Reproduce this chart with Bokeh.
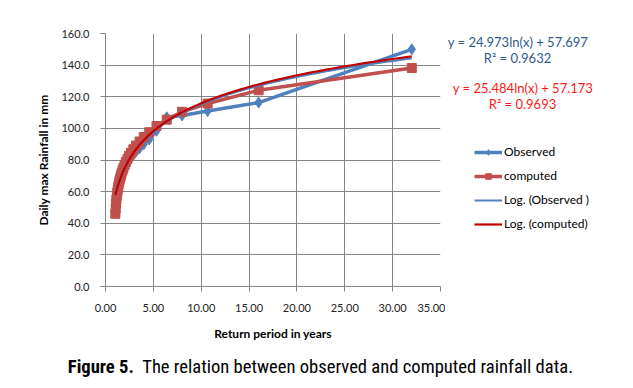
import numpy as np
from bokeh.plotting import figure
from bokeh.layouts import column, row
from bokeh.models import Range1d, FixedTicker, NumeralTickFormatter, Label, Legend, LegendItem
from bokeh.embed import file_html
from bokeh.resources import INLINE

# ---------------- data ----------------
return_period = [32.00, 16.00, 10.67, 8.00, 6.40, 5.33, 4.57, 4.00, 3.56, 3.20, 2.91,
                 2.67, 2.46, 2.29, 2.13, 2.00, 1.88, 1.78, 1.68, 1.60, 1.52, 1.45,
                 1.39, 1.33, 1.28, 1.23, 1.19, 1.14, 1.10, 1.07, 1.03]
observed = [150.0, 116.3, 111.0, 108.2, 107.0, 98.5, 93.0, 90.0, 87.5, 85.5, 83.5,
            81.5, 80.0, 78.5, 77.0, 75.5, 74.0, 72.5, 71.0, 69.5, 68.0, 66.5,
            65.0, 63.0, 61.5, 59.5, 57.5, 55.5, 53.0, 50.0, 47.0]
computed = [138.2, 124.1, 115.7, 110.5, 105.5, 101.5, 97.6, 94.5, 91.7, 89.1, 86.8,
            84.6, 82.6, 80.6, 78.7, 76.9, 75.1, 73.4, 71.7, 70.0, 68.3, 66.6,
            64.9, 63.1, 61.3, 59.4, 57.3, 55.1, 52.5, 49.3, 46.0]
# displayed trendline equations y = a*ln(x) + b
obs_a, obs_b, obs_r2 = 24.973, 57.697, 0.9632
cmp_a, cmp_b, cmp_r2 = 25.484, 57.173, 0.9693
x_ticks = [0, 5, 10, 15, 20, 25, 30, 35]
y_ticks = [0, 20, 40, 60, 80, 100, 120, 140, 160]
series_names = ["Observed", "computed", "Log. (Observed )", "Log. (computed)"]
caption_bold = "Figure 5."
caption_rest = "The relation between observed and computed rainfall data."

BLUE = "#4F81BD"
RED = "#C0504D"
DARKRED = "#C00000"
GRID = "#868686"
FONT = "Lato"
EQBLUE = "#2F5A8E"
EQRED = "#FF1A1A"
CAPFONT = "'Liberation Sans Narrow', 'Arial Narrow', 'Roboto Condensed', Roboto"

# ---------------- main chart ----------------
p = figure(width=445, height=345, output_backend="svg", toolbar_location=None,
           x_range=Range1d(0, 35), y_range=Range1d(0, 160),
           min_border_left=105, min_border_right=5, min_border_top=33, min_border_bottom=59)
p.outline_line_color = None
p.background_fill_color = "white"
p.border_fill_color = "white"

p.xaxis.ticker = FixedTicker(ticks=x_ticks)
p.yaxis.ticker = FixedTicker(ticks=y_ticks)
p.xaxis.formatter = NumeralTickFormatter(format="0.00")
p.yaxis.formatter = NumeralTickFormatter(format="0.0")
for ax in (p.xaxis, p.yaxis):
    ax.axis_line_color = GRID
    ax.major_tick_line_color = GRID
    ax.minor_tick_line_color = None
    ax.major_tick_in = 0
    ax.major_tick_out = 5
    ax.major_label_text_font = FONT
    ax.major_label_text_font_size = "11px"
    ax.major_label_text_color = "#222222"
    ax.axis_label_text_font = FONT
    ax.axis_label_text_font_style = "bold"
    ax.axis_label_text_font_size = "12px"
    ax.axis_label_text_color = "#000000"
p.xaxis.axis_label = "Return period in years"
p.yaxis.axis_label = "Daily max Rainfall in mm"
p.xaxis.major_label_standoff = 12
p.yaxis.major_label_standoff = 11
p.xaxis.axis_label_standoff = 11
p.yaxis.axis_label_standoff = 7
p.xgrid.ticker = FixedTicker(ticks=x_ticks)
p.ygrid.ticker = FixedTicker(ticks=y_ticks)
p.grid.grid_line_color = GRID
p.grid.grid_line_width = 1

p.line(return_period, observed, line_color=BLUE, line_width=3.5)
p.scatter(return_period, observed, marker="diamond", size=11, fill_color=BLUE, line_color=BLUE)
p.line(return_period, computed, line_color=RED, line_width=3.5)
p.scatter(return_period, computed, marker="square", size=9, fill_color=RED, line_color=RED)

# trendlines drawn from the displayed equations
xt = np.geomspace(min(return_period), max(return_period), 200)
p.line(xt, obs_a * np.log(xt) + obs_b, line_color=BLUE, line_width=2)
p.line(xt, cmp_a * np.log(xt) + cmp_b, line_color=DARKRED, line_width=2.2)

# ---------------- side panel: equations + legend ----------------
# frame aligned with the main chart's frame (rows 33..286 px)
side = figure(width=180, height=345, output_backend="svg", toolbar_location=None,
              x_range=Range1d(445, 625), y_range=Range1d(286, 33),
              min_border_left=0, min_border_right=0, min_border_top=33, min_border_bottom=59,
              x_axis_type=None, y_axis_type=None)
side.outline_line_color = None
side.grid.visible = False
side.background_fill_color = "white"
side.border_fill_color = "white"

# legend proxies: same series, but they fall outside this panel's ranges (clipped away)
r_obs_line = side.line(return_period, observed, line_color=BLUE, line_width=3.5)
r_obs_pts = side.scatter(return_period, observed, marker="diamond", size=9,
                         fill_color=BLUE, line_color=BLUE)
r_cmp_line = side.line(return_period, computed, line_color=RED, line_width=3.5)
r_cmp_pts = side.scatter(return_period, computed, marker="square", size=8,
                         fill_color=RED, line_color=RED)
r_obs_tr = side.line(return_period, observed, line_color=BLUE, line_width=2)
r_cmp_tr = side.line(return_period, computed, line_color=DARKRED, line_width=2.2)

legend = Legend(items=[
    LegendItem(label=series_names[0], renderers=[r_obs_line, r_obs_pts]),
    LegendItem(label=series_names[1], renderers=[r_cmp_line, r_cmp_pts]),
    LegendItem(label=series_names[2], renderers=[r_obs_tr]),
    LegendItem(label=series_names[3], renderers=[r_cmp_tr]),
], location=(29, 55))
legend.padding = 0
legend.margin = 0
legend.spacing = 9
legend.glyph_width = 28
legend.glyph_height = 14
legend.label_height = 14
legend.label_standoff = 2
legend.label_text_font = FONT
legend.label_text_font_size = "12px"
legend.label_text_color = "#000000"
legend.border_line_color = None
legend.background_fill_alpha = 0
side.add_layout(legend, "center")

eq_texts = [
    (517.5, 41.0, "y = %.3fln(x) + %.3f" % (obs_a, obs_b), EQBLUE),
    (517.0, 57.5, "R\u00b2 = %.4f" % obs_r2, EQBLUE),
    (522.5, 87.5, "y = %.3fln(x) + %.3f" % (cmp_a, cmp_b), EQRED),
    (522.0, 103.5, "R\u00b2 = %.4f" % cmp_r2, EQRED),
]
for x, y, t, c in eq_texts:
    side.add_layout(Label(x=x, y=y, text=t, text_color=c, text_font=FONT,
                          text_font_size="13px", text_align="center", text_baseline="middle"))

# ---------------- caption ----------------
cap = figure(width=625, height=35, output_backend="svg", toolbar_location=None,
             x_range=Range1d(0, 625), y_range=Range1d(380, 345),
             min_border=0, x_axis_type=None, y_axis_type=None)
cap.outline_line_color = None
cap.grid.visible = False
cap.background_fill_color = "white"
cap.border_fill_color = "white"
cap.add_layout(Label(x=67.3, y=366, text=caption_bold, text_font=CAPFONT,
                     text_font_style="bold", text_font_size="18.6px", text_color="#000000",
                     text_align="left", text_baseline="middle"))
cap.add_layout(Label(x=141.7, y=366, text=caption_rest, text_font=CAPFONT,
                     text_font_size="18.6px", text_color="#000000",
                     text_align="left", text_baseline="middle"))

layout = column(row(p, side), cap)
open("out.html", "w").write(file_html(layout, INLINE))
